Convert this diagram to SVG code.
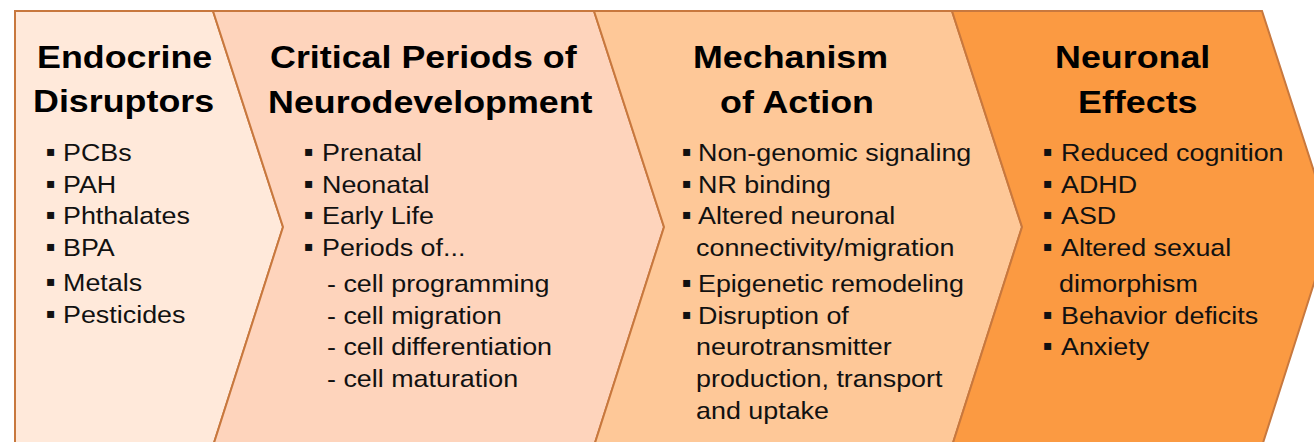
<svg xmlns="http://www.w3.org/2000/svg" width="1314" height="442" viewBox="0 0 1314 442">
<style>
  .panel { stroke: #C8783E; stroke-width: 2; stroke-linejoin: miter; }
  .p1 { fill: #FFE9DA; }
  .p2 { fill: #FED4BC; }
  .p3 { fill: #FEC898; }
  .p4 { fill: #FB9A42; }
  .t { font-family: "Liberation Sans", Arial, sans-serif; font-weight: bold; font-size: 32px; fill: #000; }
  .s { font-family: "Liberation Sans", Arial, sans-serif; font-size: 24px; fill: #111; }
  .b { font-family: "DejaVu Sans", "Liberation Sans", sans-serif; font-size: 14px; fill: #111; }
</style>
<rect x="0" y="0" width="1314" height="442" fill="#FFFFFF"/>
<g id="node-endocrine-disruptors">
  <polygon class="panel p1" points="15,11 213,11 283,227 213,446 15,446"/>
  <text class="t" transform="translate(37 68) scale(1.12 1)">Endocrine</text>
  <text class="t" transform="translate(33 112) scale(1.12 1)">Disruptors</text>
  <text class="b" x="46" y="156">▪</text><text class="s" transform="translate(63 161) scale(1.12 1)">PCBs</text>
  <text class="b" x="46" y="188">▪</text><text class="s" transform="translate(63 193) scale(1.12 1)">PAH</text>
  <text class="b" x="46" y="219">▪</text><text class="s" transform="translate(63 224) scale(1.12 1)">Phthalates</text>
  <text class="b" x="46" y="251">▪</text><text class="s" transform="translate(63 256) scale(1.12 1)">BPA</text>
  <text class="b" x="46" y="286">▪</text><text class="s" transform="translate(63 291) scale(1.12 1)">Metals</text>
  <text class="b" x="46" y="318">▪</text><text class="s" transform="translate(63 323) scale(1.12 1)">Pesticides</text>
</g>
<g id="node-critical-periods">
  <polygon class="panel p2" points="213,11 594,11 664,227 594,446 213,446 283,227"/>
  <text class="t" transform="translate(270 68) scale(1.12 1)">Critical Periods of</text>
  <text class="t" transform="translate(268 113) scale(1.12 1)">Neurodevelopment</text>
  <text class="b" x="304" y="156">▪</text><text class="s" transform="translate(322 161) scale(1.12 1)">Prenatal</text>
  <text class="b" x="304" y="188">▪</text><text class="s" transform="translate(322 193) scale(1.12 1)">Neonatal</text>
  <text class="b" x="304" y="219">▪</text><text class="s" transform="translate(322 224) scale(1.12 1)">Early Life</text>
  <text class="b" x="304" y="251">▪</text><text class="s" transform="translate(322 256) scale(1.12 1)">Periods of...</text>
  <text class="s" transform="translate(327 292) scale(1.12 1)">- cell programming</text>
  <text class="s" transform="translate(327 324) scale(1.12 1)">- cell migration</text>
  <text class="s" transform="translate(327 355) scale(1.12 1)">- cell differentiation</text>
  <text class="s" transform="translate(327 387) scale(1.12 1)">- cell maturation</text>
</g>
<g id="node-mechanism">
  <polygon class="panel p3" points="594,11 952,11 1022,227 952,446 594,446 664,227"/>
  <text class="t" transform="translate(693 68) scale(1.12 1)">Mechanism</text>
  <text class="t" transform="translate(720 113) scale(1.12 1)">of Action</text>
  <text class="b" x="682" y="156">▪</text><text class="s" transform="translate(698 161) scale(1.12 1)">Non-genomic signaling</text>
  <text class="b" x="682" y="188">▪</text><text class="s" transform="translate(698 193) scale(1.12 1)">NR binding</text>
  <text class="b" x="682" y="219">▪</text><text class="s" transform="translate(698 224) scale(1.12 1)">Altered neuronal</text>
  <text class="s" transform="translate(696 256) scale(1.12 1)">connectivity/migration</text>
  <text class="b" x="682" y="287">▪</text><text class="s" transform="translate(698 292) scale(1.12 1)">Epigenetic remodeling</text>
  <text class="b" x="682" y="319">▪</text><text class="s" transform="translate(698 324) scale(1.12 1)">Disruption of</text>
  <text class="s" transform="translate(696 355) scale(1.12 1)">neurotransmitter</text>
  <text class="s" transform="translate(696 387) scale(1.12 1)">production, transport</text>
  <text class="s" transform="translate(696 419) scale(1.12 1)">and uptake</text>
</g>
<g id="node-neuronal-effects">
  <polygon class="panel p4" points="952,11 1262,11 1332,227 1262,446 952,446 1022,227"/>
  <text class="t" transform="translate(1055 68) scale(1.12 1)">Neuronal</text>
  <text class="t" transform="translate(1078 113) scale(1.12 1)">Effects</text>
  <text class="b" x="1043" y="156">▪</text><text class="s" transform="translate(1061 161) scale(1.12 1)">Reduced cognition</text>
  <text class="b" x="1043" y="188">▪</text><text class="s" transform="translate(1061 193) scale(1.12 1)">ADHD</text>
  <text class="b" x="1043" y="219">▪</text><text class="s" transform="translate(1061 224) scale(1.12 1)">ASD</text>
  <text class="b" x="1043" y="251">▪</text><text class="s" transform="translate(1061 256) scale(1.12 1)">Altered sexual</text>
  <text class="s" transform="translate(1059 292) scale(1.12 1)">dimorphism</text>
  <text class="b" x="1043" y="319">▪</text><text class="s" transform="translate(1061 324) scale(1.12 1)">Behavior deficits</text>
  <text class="b" x="1043" y="350">▪</text><text class="s" transform="translate(1061 355) scale(1.12 1)">Anxiety</text>
</g>
<g id="connectors"></g>
</svg>
